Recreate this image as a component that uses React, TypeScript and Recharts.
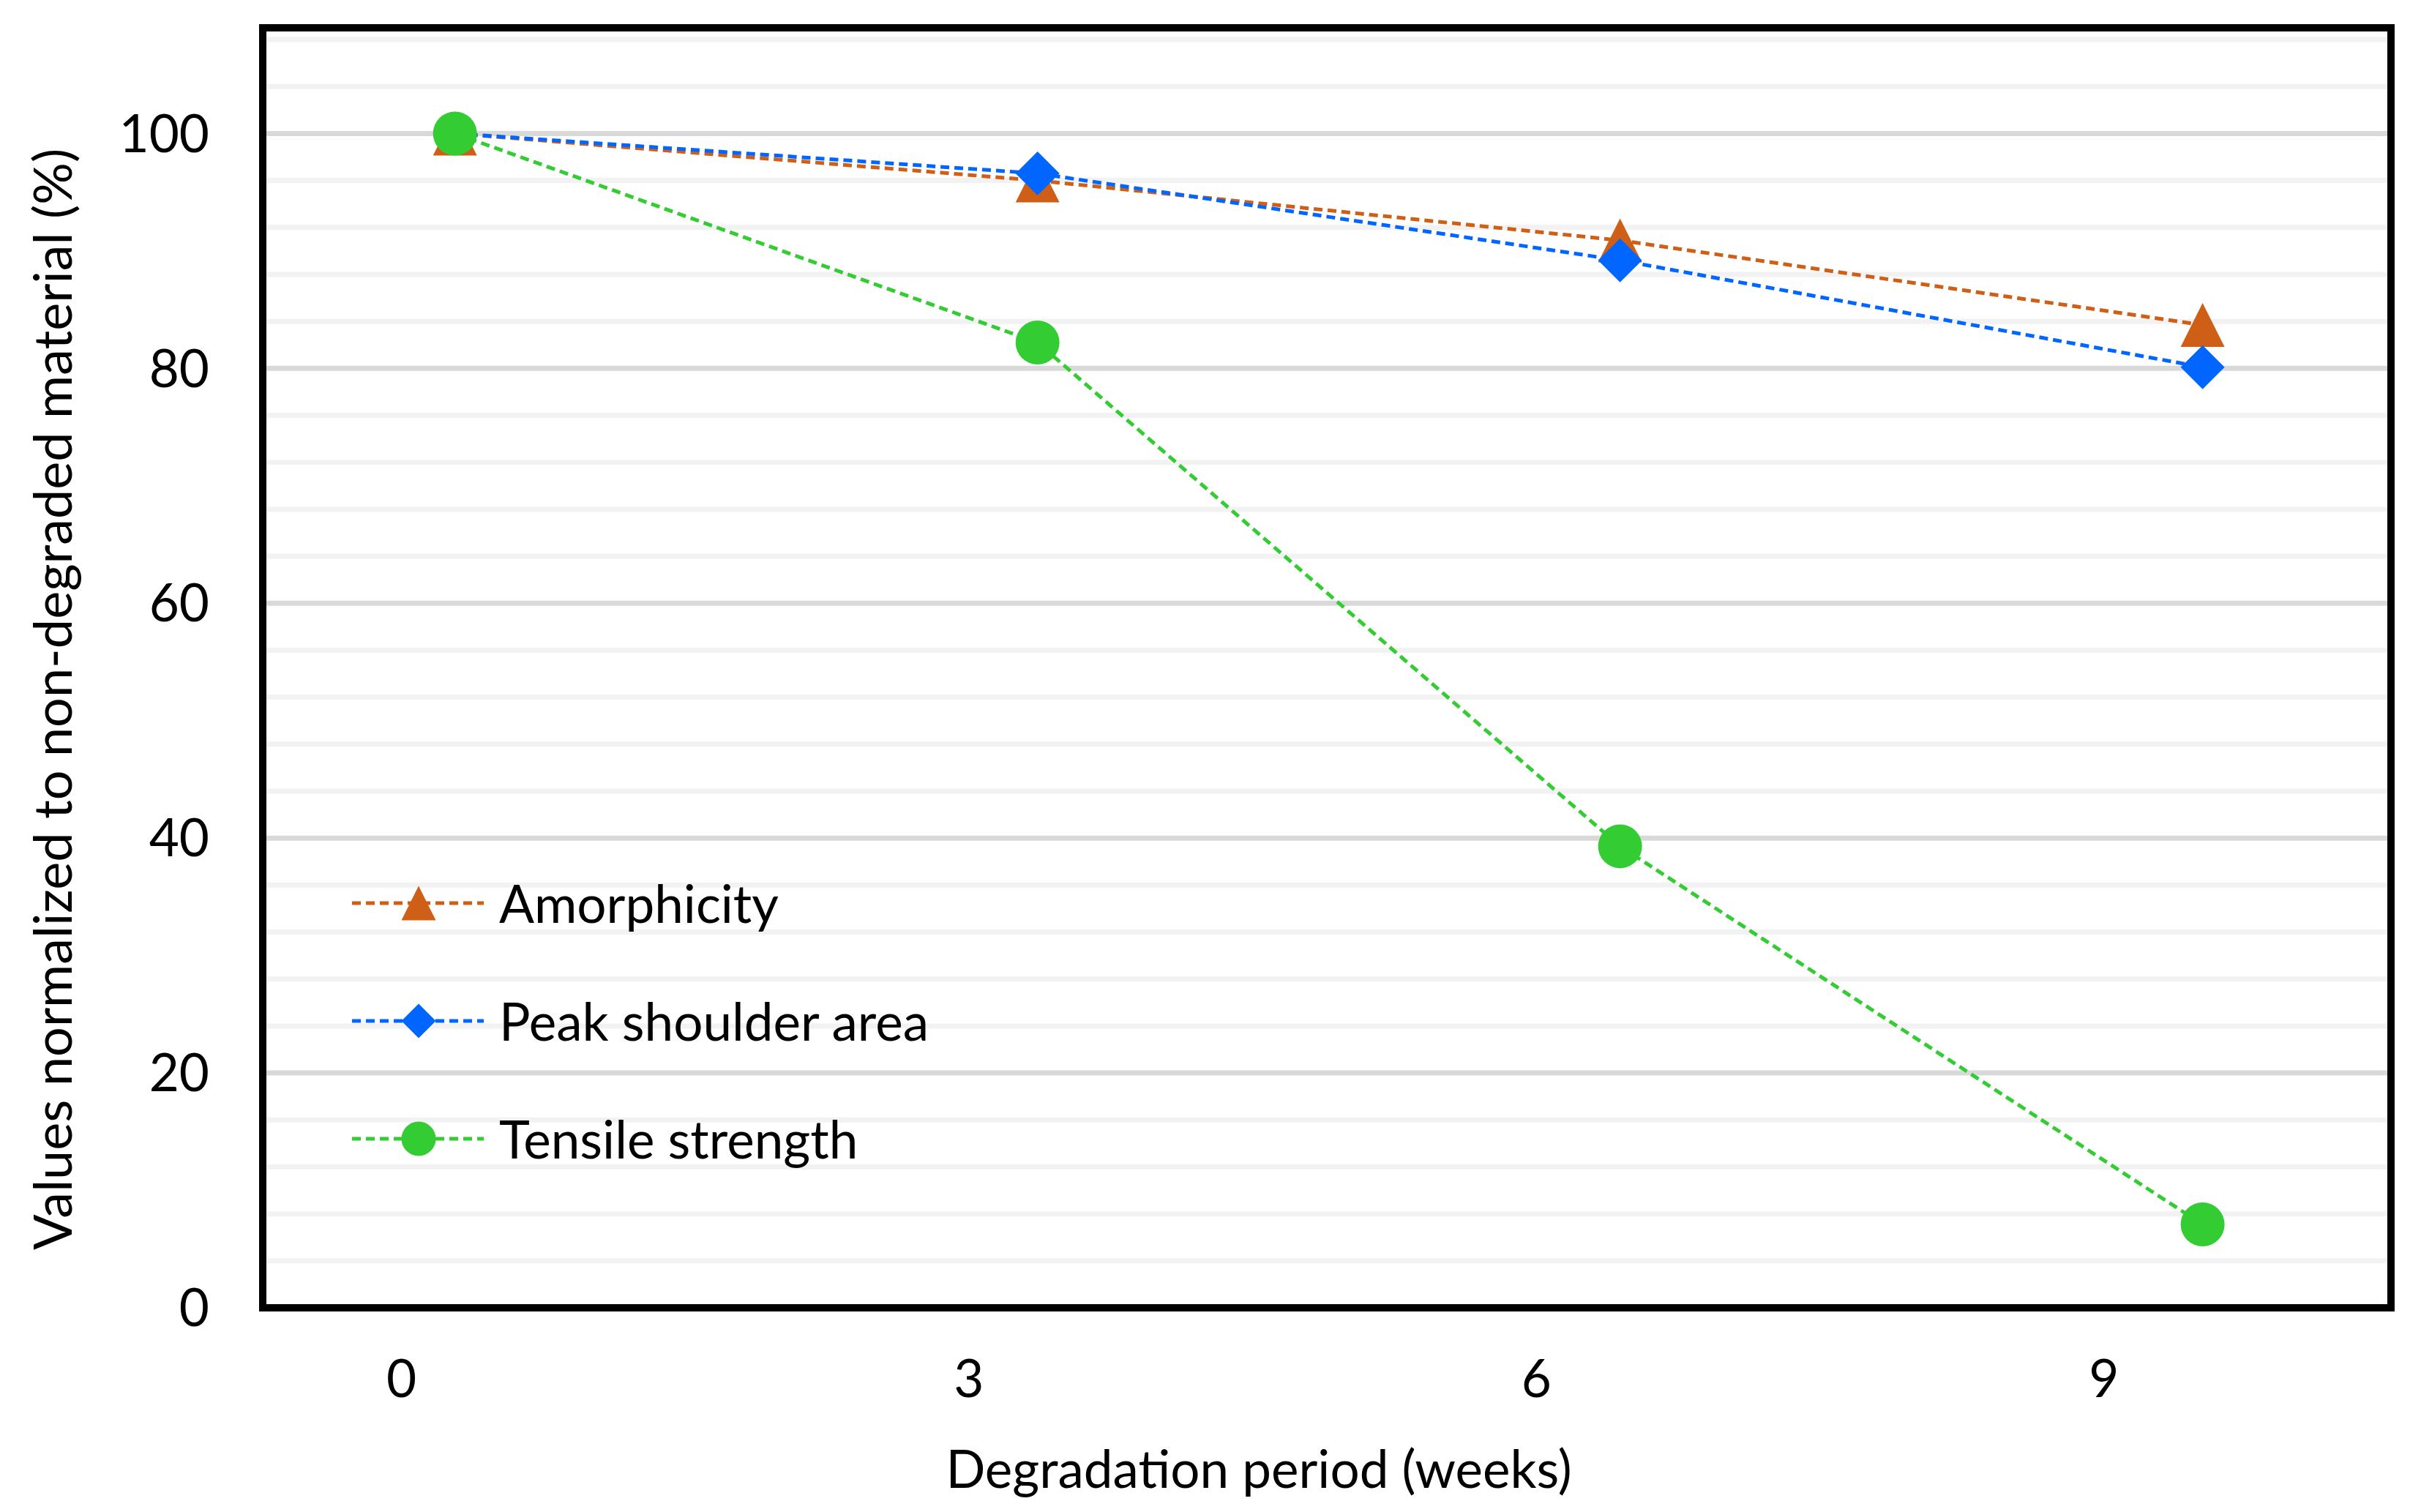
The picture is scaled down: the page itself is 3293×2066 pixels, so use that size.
import React from 'react';
import { LineChart, Line, XAxis, YAxis, CartesianGrid, ReferenceArea, Legend } from 'recharts';

// ---- data ----
const weeks = [0, 3, 6, 9];
const amorphicity = [100, 96.0, 90.9, 83.7];
const peakShoulderArea = [100, 96.6, 89.2, 80.1];
const tensileStrength = [100, 82.2, 39.3, 7.1];

const xTickLabels = [0, 3, 6, 9];
const yTicks = [0, 20, 40, 60, 80, 100];
const majorGrid = [20, 40, 60, 80, 100];
const minorGrid = [4, 8, 12, 16, 24, 28, 32, 36, 44, 48, 52, 56, 64, 68, 72, 76, 84, 88, 92, 96, 104, 108];

const seriesKeys = ['amorphicity', 'peak', 'tensile'];
const seriesNames = ['Amorphicity', 'Peak shoulder area', 'Tensile strength'];
const seriesColors = ['#CF5F16', '#0066FF', '#33CC33'];
const seriesShapes = ['triangle', 'diamond', 'circle'];

const data = weeks.map((w, i) => ({
  week: w,
  amorphicity: amorphicity[i],
  peak: peakShoulderArea[i],
  tensile: tensileStrength[i],
}));

// ---- layout / styling ----
const W = 3293;
const H = 2066;
const M_TOP = 38;
const M_RIGHT = 26;
const Y_AXIS_W = 359;
const X_AXIS_H = 279;
const PLOT_BOTTOM = H - X_AXIS_H;
const PLOT_CX = (Y_AXIS_W + (W - M_RIGHT)) / 2;
const PLOT_CY = (M_TOP + PLOT_BOTTOM) / 2;
const FONT = 'Lato, "Open Sans", sans-serif';
const FS = 71;
const DASH = '12 7';
const LINE_W = 5;

function Marker({ shape, cx, cy, size, color }: any) {
  const h = size / 2;
  if (shape === 'triangle') {
    return <path d={`M${cx},${cy - h} L${cx + h},${cy + h} L${cx - h},${cy + h} Z`} fill={color} />;
  }
  if (shape === 'diamond') {
    return <path d={`M${cx},${cy - h} L${cx + h},${cy} L${cx},${cy + h} L${cx - h},${cy} Z`} fill={color} />;
  }
  return <circle cx={cx} cy={cy} r={h} fill={color} />;
}

const makeDot = (idx: number) => (props: any) => {
  const { cx, cy, index } = props;
  if (cx == null || cy == null) return <g key={`d-${idx}-${index}`} />;
  return (
    <g key={`d-${idx}-${index}`}>
      <Marker shape={seriesShapes[idx]} cx={cx} cy={cy} size={60} color={seriesColors[idx]} />
    </g>
  );
};

const renderLegend = () => (
  <div style={{ display: 'flex', flexDirection: 'column', fontFamily: FONT, fontSize: FS, color: '#000' }}>
    {seriesNames.map((name, i) => (
      <div key={name} style={{ display: 'flex', alignItems: 'center', height: 161 }}>
        <svg width={180} height={60} style={{ display: 'block', flex: 'none' }}>
          <line x1={0} y1={30} x2={180} y2={30} stroke={seriesColors[i]} strokeWidth={LINE_W} strokeDasharray={DASH} />
          <Marker shape={seriesShapes[i]} cx={91} cy={30} size={47} color={seriesColors[i]} />
        </svg>
        <span style={{ marginLeft: 21, lineHeight: 1, whiteSpace: 'nowrap' }}>{name}</span>
      </div>
    ))}
  </div>
);

const yTitle = () => {
  const x = 98;
  const y = PLOT_CY + 43;
  return (
    <text
      x={x}
      y={y}
      transform={`rotate(-90, ${x}, ${y})`}
      textAnchor="middle"
      fontFamily={FONT}
      fontSize={72}
      fill="#000"
    >
      Values normalized to non-degraded material (%)
    </text>
  );
};

const xTitle = () => {
  const x = PLOT_CX - 93;
  const y = PLOT_BOTTOM + 246;
  return (
    <text x={x} y={y} textAnchor="middle" fontFamily={FONT} fontSize={FS} fill="#000">
      Degradation period (weeks)
    </text>
  );
};

export default function App() {
  return (
    <div style={{ position: 'absolute', left: 0, top: 0, width: W, height: H, background: '#fff' }}>
      <LineChart width={W} height={H} data={data} margin={{ top: M_TOP, right: M_RIGHT, bottom: 0, left: 0 }}>
        <CartesianGrid horizontalValues={minorGrid} vertical={false} stroke="#f2f2f2" strokeWidth={7} />
        <CartesianGrid horizontalValues={majorGrid} vertical={false} stroke="#d9d9d9" strokeWidth={7} />
        <XAxis dataKey="week" type="number" domain={[-0.99, 9.97]} allowDataOverflow hide />
        <XAxis
          xAxisId="lbl"
          dataKey="week"
          type="number"
          domain={[-0.733, 10.517]}
          allowDataOverflow
          ticks={xTickLabels}
          height={X_AXIS_H}
          tickSize={0}
          tickMargin={42}
          axisLine={false}
          tickLine={false}
          interval={0}
          tick={{ fill: '#000', fontSize: FS, fontFamily: FONT }}
          label={xTitle}
        />
        <YAxis
          type="number"
          domain={[0, 109]}
          allowDataOverflow
          ticks={yTicks}
          width={Y_AXIS_W}
          tickSize={0}
          tickMargin={73}
          axisLine={false}
          tickLine={false}
          interval={0}
          tick={{ fill: '#000', fontSize: FS, fontFamily: FONT }}
          label={yTitle}
        />
        {seriesKeys.map((k, i) => (
          <Line
            key={k}
            dataKey={k}
            name={seriesNames[i]}
            type="linear"
            stroke={seriesColors[i]}
            strokeWidth={LINE_W}
            strokeDasharray={DASH}
            dot={makeDot(i)}
            activeDot={false}
            isAnimationActive={false}
          />
        ))}
        <ReferenceArea
          x1={-0.99}
          x2={9.97}
          y1={0}
          y2={109}
          fill="none"
          fillOpacity={0}
          stroke="#000"
          strokeWidth={10}
          ifOverflow="visible"
        />
        <Legend
          layout="horizontal"
          verticalAlign="middle"
          align="center"
          content={renderLegend}
          wrapperStyle={{ left: 481, top: 1153, width: 'auto', height: 'auto' }}
        />
      </LineChart>
    </div>
  );
}
